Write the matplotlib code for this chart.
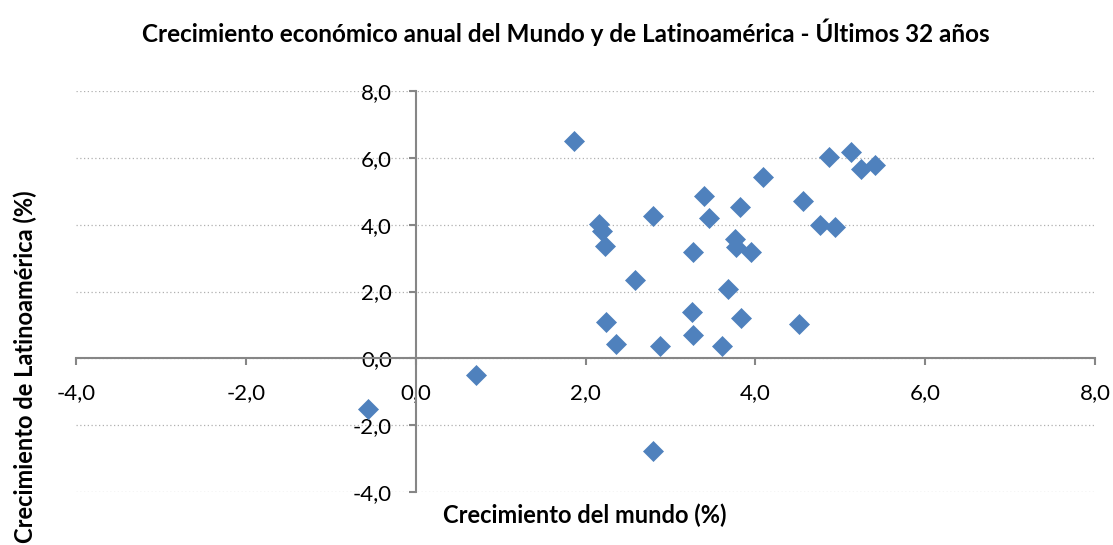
import matplotlib
matplotlib.use("Agg")
import matplotlib.pyplot as plt
import matplotlib.ticker as ticker

# crecimiento anual (%) - mundo (x) vs Latinoamérica (y)
mundo = [1.86, 4.09, 3.39, 3.82, 2.80, 3.46, 2.16, 2.19, 2.23, 3.76, 3.77,
         3.95, 3.27, 2.58, 3.68, 3.26, 3.83, 2.24, 3.27, 2.36, 2.88, 3.61,
         0.71, 4.87, 5.13, 5.25, 5.41, 4.56, 4.76, 4.94, 4.52, -0.56, 2.80]
latam = [6.50, 5.43, 4.86, 4.52, 4.26, 4.21, 4.02, 3.82, 3.35, 3.58, 3.34,
         3.19, 3.18, 2.34, 2.07, 1.39, 1.22, 1.09, 0.70, 0.44, 0.36, 0.38,
         -0.49, 6.03, 6.16, 5.66, 5.79, 4.70, 3.99, 3.92, 1.04, -1.53, -2.78]

x_ticks = [-4, -2, 0, 2, 4, 6, 8]
y_ticks = [-4, -2, 0, 2, 4, 6, 8]

AXIS_GRAY = "#868686"
BLUE = "#4F81BD"
FONT = ["Lato", "DejaVu Sans"]

plt.rcParams["font.family"] = FONT

fig = plt.figure(figsize=(11.13, 5.45), dpi=100)
ax = fig.add_axes([76 / 1113, 53 / 545, 1019 / 1113, 401 / 545])

ax.set_xlim(-4, 8)
ax.set_ylim(-4, 8)

# axes cross at origin, Excel style
for side in ("top", "right"):
    ax.spines[side].set_visible(False)
ax.spines["left"].set_position(("data", 0))
ax.spines["bottom"].set_position(("data", 0))
for side in ("left", "bottom"):
    ax.spines[side].set_color(AXIS_GRAY)
    ax.spines[side].set_linewidth(1.5)

ax.set_xticks(x_ticks)
ax.set_yticks(y_ticks)
fmt = ticker.FuncFormatter(lambda v, _: f"{v:.1f}".replace(".", ","))
ax.xaxis.set_major_formatter(fmt)
ax.yaxis.set_major_formatter(fmt)
ax.tick_params(axis="both", direction="out", length=5, width=1.5,
               color=AXIS_GRAY, labelsize=16, labelcolor="black")
ax.tick_params(axis="x", pad=13)
ax.tick_params(axis="y", pad=12)

ax.yaxis.grid(True, linestyle=(0, (1, 2)), color="#b0b0b0", linewidth=0.9)
ax.set_axisbelow(True)

ax.plot(mundo, latam, linestyle="none", marker="D", markersize=10,
        color=BLUE, markeredgecolor=BLUE, markeredgewidth=0.5, zorder=3,
        clip_on=False)

fig.text(566 / 1113, 1 - 32 / 545,
         "Crecimiento económico anual del Mundo y de Latinoamérica - Últimos 32 años",
         ha="center", va="center", fontsize=17.5, fontweight="bold")
fig.text(585 / 1113, 1 - 515 / 545, "Crecimiento del mundo (%)",
         ha="center", va="center", fontsize=17, fontweight="bold")
fig.text(25 / 1113, 1 - 367 / 545, "Crecimiento de Latinoamérica (%)",
         ha="center", va="center", rotation=90, fontsize=17, fontweight="bold")

fig.savefig("out.png", dpi=100)
